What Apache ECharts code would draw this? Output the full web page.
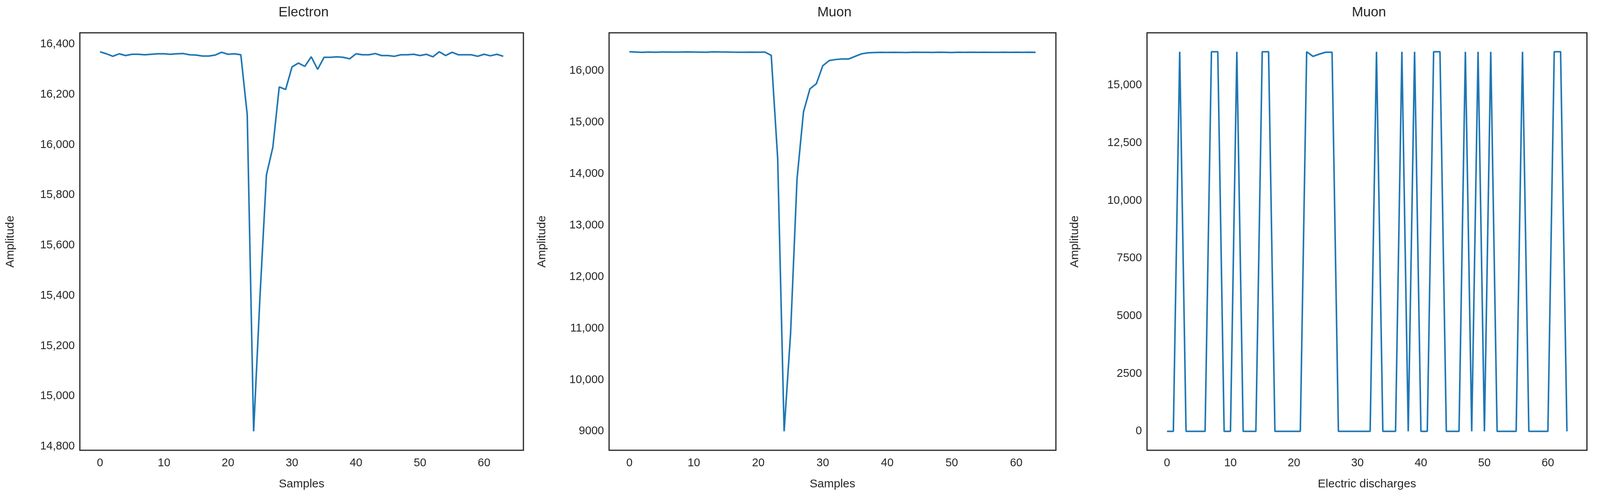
<!DOCTYPE html>
<html>
<head>
<meta charset="utf-8">
<script src="https://cdn.jsdelivr.net/npm/echarts@6/dist/echarts.min.js"></script>
<style>
  html, body { margin: 0; padding: 0; background: #fff; overflow: hidden; }
  #chart { width: 100vw; height: 100vh; }
</style>
</head>
<body>
<div id="chart"></div>
<script>
// Sample index 0..63 shared by all three panels.
const samples = Array.from({ length: 64 }, (_, i) => i);

const electron = [
  16370, 16362, 16352, 16362, 16355, 16360, 16360, 16358, 16360, 16362,
  16362, 16360, 16362, 16363, 16358, 16357, 16353, 16353, 16357, 16368,
  16360, 16362, 16358, 16120, 14860, 15400, 15880, 15990, 16230, 16220,
  16310, 16325, 16312, 16350, 16300, 16348, 16348, 16350, 16348, 16342,
  16362, 16358, 16358, 16363, 16355, 16355, 16352, 16358, 16358, 16360,
  16355, 16360, 16350, 16370, 16355, 16368, 16358, 16358, 16358, 16352,
  16360, 16354, 16360, 16352,
];

const muon = [
  16370, 16365, 16360, 16365, 16362, 16365, 16365, 16363, 16365, 16366,
  16365, 16364, 16362, 16368, 16366, 16365, 16363, 16362, 16362, 16363,
  16362, 16365, 16300, 14300, 9000, 10900, 13900, 15200, 15650, 15750,
  16100, 16200, 16220, 16230, 16230, 16280, 16330, 16350, 16355, 16360,
  16358, 16360, 16358, 16355, 16362, 16360, 16360, 16358, 16362, 16360,
  16355, 16362, 16360, 16362, 16360, 16362, 16360, 16360, 16362, 16360,
  16362, 16360, 16362, 16360,
];

const H = 16450;
const muonDischarges = [
  0, 0, H, 0, 0, 0, 0, H, H, 0,
  0, H, 0, 0, 0, H, H, 0, 0, 0,
  0, 0, H, 16250, 16350, 16430, 16430, 0, 0, 0,
  0, 0, 0, H, 0, 0, 0, H, 0, H,
  0, 0, H, H, 0, 0, 0, H, 0, H,
  0, H, 0, 0, 0, 0, H, 0, 0, 0,
  0, H, H, 0,
];

const titles = ["Electron", "Muon", "Muon"];
const xNames = ["Samples", "Samples", "Electric discharges"];
const xTicks = [0, 10, 20, 30, 40, 50, 60];
const yTicks = [
  [14800, 15000, 15200, 15400, 15600, 15800, 16000, 16200, 16400],
  [9000, 10000, 11000, 12000, 13000, 14000, 15000, 16000],
  [0, 2500, 5000, 7500, 10000, 12500, 15000],
];
const seriesData = [electron, muon, muonDischarges];

const FONT = "Liberation Sans";
const TEXT = "#262626";
// Panel geometry in reference pixels (4408 wide); scaled to the real window.
const REF_W = 4408, REF_H = 1288;
const panels = [
  { left: 220, width: 1222, nameGap: 175 },
  { left: 1678, width: 1231, nameGap: 168 },
  { left: 3160, width: 1212, nameGap: 182 },
];
const TOP = 84, BOTTOM = 135;

// matplotlib-style: thousands separator only from 10,000 up
const fmt = (v) => (Math.abs(v) >= 10000 ? v.toLocaleString("en-US") : String(v));

// 5% margins around the data, like matplotlib autoscaling
function padded(arr, frac = 0.05) {
  const lo = Math.min(...arr), hi = Math.max(...arr);
  const d = (hi - lo) * frac;
  return [lo - d, hi + d];
}

const node = document.getElementById("chart");
const k = node.clientWidth / REF_W;
const kh = node.clientHeight / REF_H;
const fs = (n) => Math.round(n * Math.min(k, kh));

const grids = [], xAxes = [], yAxes = [], series = [], tTitles = [];
panels.forEach((p, i) => {
  grids.push({
    left: p.left * k, width: p.width * k, top: TOP * kh, bottom: BOTTOM * kh,
    show: true, borderColor: TEXT, borderWidth: 3, backgroundColor: "#fff",
  });
  tTitles.push({
    text: titles[i], left: (p.left + p.width / 2) * k, top: 10 * kh, textAlign: "center",
    textStyle: { fontFamily: FONT, fontSize: fs(38), fontWeight: "normal", color: TEXT },
  });
  const [ymin, ymax] = padded(seriesData[i]);
  xAxes.push({
    type: "value", gridIndex: i, min: -3.15, max: 66.15,
    name: xNames[i], nameLocation: "middle", nameGap: 72 * kh,
    nameTextStyle: { fontFamily: FONT, fontSize: fs(32), color: TEXT },
    axisLine: { show: false }, axisTick: { show: false }, splitLine: { show: false },
    axisLabel: {
      customValues: xTicks, margin: 18 * kh, fontFamily: FONT, fontSize: fs(31), color: TEXT,
    },
  });
  yAxes.push({
    type: "value", gridIndex: i, min: ymin, max: ymax,
    name: "Amplitude", nameLocation: "middle", nameGap: p.nameGap * k,
    nameTextStyle: { fontFamily: FONT, fontSize: fs(32), color: TEXT },
    axisLine: { show: false }, axisTick: { show: false }, splitLine: { show: false },
    axisLabel: {
      customValues: yTicks[i], margin: 14 * k, fontFamily: FONT, fontSize: fs(31), color: TEXT,
      formatter: fmt,
    },
  });
  series.push({
    type: "line", xAxisIndex: i, yAxisIndex: i, showSymbol: false, animation: false,
    data: samples.map((x, j) => [x, seriesData[i][j]]),
    lineStyle: { color: "#1f77b4", width: 4 },
  });
});

const chart = echarts.init(node, null, { renderer: "canvas" });
chart.setOption({
  backgroundColor: "#fff",
  animation: false,
  title: tTitles,
  grid: grids,
  xAxis: xAxes,
  yAxis: yAxes,
  series,
});
</script>
</body>
</html>
